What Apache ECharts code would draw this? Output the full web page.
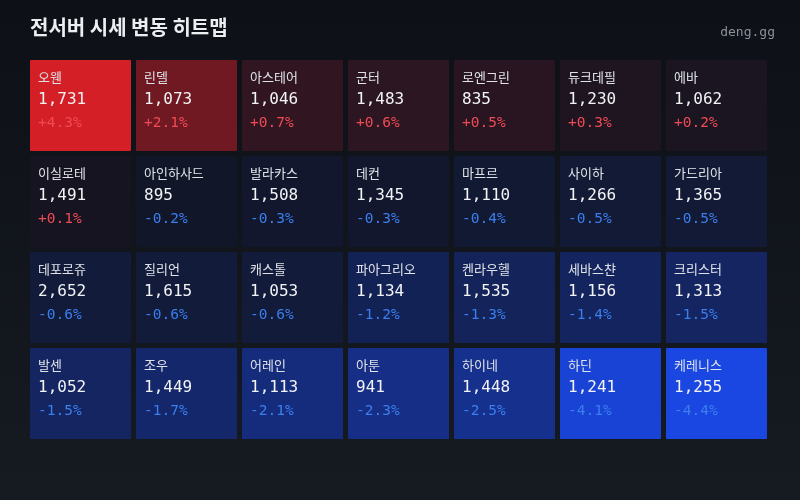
<!DOCTYPE html>
<html>
<head>
<meta charset="utf-8">
<script src="https://cdn.jsdelivr.net/npm/echarts@6/dist/echarts.min.js"></script>
<style>
html,body{margin:0;padding:0;background:#0f1218;}
#chart{width:800px;height:500px;}
</style>
</head>
<body>
<div id="chart"></div>
<script>
// ---- data ----
const columns = ['c1','c2','c3','c4','c5','c6','c7'];
const rows = ['r1','r2','r3','r4'];
const names = [
  '오웬','린델','아스테어','군터','로엔그린','듀크데필','에바',
  '이실로테','아인하사드','발라카스','데컨','마프르','사이하','가드리아',
  '데포로쥬','질리언','캐스톨','파아그리오','켄라우헬','세바스챤','크리스터',
  '발센','조우','어레인','아툰','하이네','하딘','케레니스'
];
const prices = [
  1731,1073,1046,1483,835,1230,1062,
  1491,895,1508,1345,1110,1266,1365,
  2652,1615,1053,1134,1535,1156,1313,
  1052,1449,1113,941,1448,1241,1255
];
const changes = [
  4.3,2.1,0.7,0.6,0.5,0.3,0.2,
  0.1,-0.2,-0.3,-0.3,-0.4,-0.5,-0.5,
  -0.6,-0.6,-0.6,-1.2,-1.3,-1.4,-1.5,
  -1.5,-1.7,-2.1,-2.3,-2.5,-4.1,-4.4
];

const data = names.map((n, i) => [i % 7, Math.floor(i / 7), changes[i], n, prices[i]]);

const chart = echarts.init(document.getElementById('chart'), null, {renderer: 'canvas'});
const KR = '"Noto Sans CJK KR", "Noto Sans", sans-serif';
const MONO = '"DejaVu Sans Mono", "Liberation Mono", monospace';

function fmtNum(v){ return v.toLocaleString('en-US'); }
function fmtPct(c){ return (c > 0 ? '+' : '') + c.toFixed(1) + '%'; }

chart.setOption({
  backgroundColor: new echarts.graphic.LinearGradient(0, 0, 0, 1, [
    {offset: 0, color: '#0d1017'},
    {offset: 1, color: '#161a21'}
  ]),
  title: [
    {text: '전서버 시세 변동 히트맵', left: 25, top: 12,
     textStyle: {color: '#eceef1', fontSize: 20, fontWeight: 'bold', fontFamily: KR}},
    {text: 'deng.gg', right: 20, top: 21,
     textStyle: {color: '#8a919b', fontSize: 13, fontWeight: 'normal', fontFamily: MONO}}
  ],
  grid: {left: 27.5, right: 30.5, top: 57.5, bottom: 58.5},
  xAxis: {type: 'category', data: columns, show: false},
  yAxis: {type: 'category', data: rows, inverse: true, show: false},
  visualMap: {
    show: false, type: 'continuous', dimension: 2, min: -4.4, max: 4.4,
    inRange: {color: ['#1a46e2', '#111420', '#d91f27']}
  },
  series: [{
    type: 'custom',
    data: data,
    encode: {x: 0, y: 1},
    renderItem: function (params, api) {
      const c = api.coord([api.value(0), api.value(1)]);
      const s = api.size([1, 1]);
      const w = s[0] - 5, h = s[1] - 5;
      const x0 = c[0] - w / 2, y0 = c[1] - h / 2;
      const chg = api.value(2);
      const idx = params.dataIndex;
      const nm = data[idx][3];
      const pr = data[idx][4];
      return {
        type: 'group',
        children: [
          {type: 'rect', shape: {x: x0, y: y0, width: w, height: h, r: 1},
           style: {fill: api.visual('color')}},
          {type: 'text', style: {x: x0 + 8, y: y0 + 17, text: nm, fill: '#dfe3e8',
            font: '13px ' + KR, textVerticalAlign: 'middle', textAlign: 'left'}},
          {type: 'text', style: {x: x0 + 8, y: y0 + 40, text: fmtNum(pr), fill: '#f1f3f5',
            font: '16px ' + MONO, textVerticalAlign: 'middle', textAlign: 'left'}},
          {type: 'text', style: {x: x0 + 8, y: y0 + 63, text: fmtPct(chg),
            fill: chg > 0 ? '#ef4b55' : '#3b7fee',
            font: '14.5px ' + MONO, textVerticalAlign: 'middle', textAlign: 'left'}}
        ]
      };
    }
  }]
});
</script>
</body>
</html>
